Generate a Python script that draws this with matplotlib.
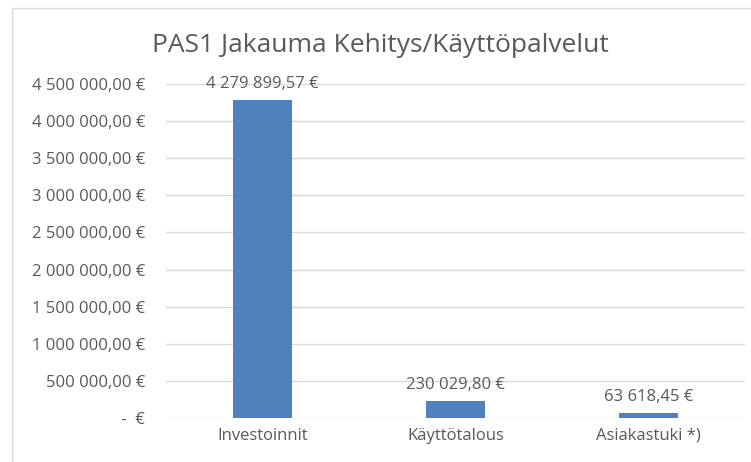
import matplotlib.pyplot as plt
from matplotlib.patches import Rectangle

# Data
categories = ["Investoinnit", "Käyttötalous", "Asiakastuki *)"]
values = [4279899.57, 230029.80, 63618.45]
value_labels = ["4 279 899,57 €", "230 029,80 €", "63 618,45 €"]
ticks = [0, 500000, 1000000, 1500000, 2000000, 2500000, 3000000, 3500000, 4000000, 4500000]
tick_labels = [" -  €", "500 000,00 €", "1 000 000,00 €", "1 500 000,00 €", "2 000 000,00 €",
               "2 500 000,00 €", "3 000 000,00 €", "3 500 000,00 €", "4 000 000,00 €", "4 500 000,00 €"]

plt.rcParams['font.family'] = ['Open Sans', 'DejaVu Sans']
text_color = "#595959"

fig = plt.figure(figsize=(7.51, 4.62), dpi=100)

# chart border
fig.patches.append(Rectangle((12 / 751, -0.05), 1.0, 1 - 8 / 462 + 0.05, transform=fig.transFigure,
                             fill=False, edgecolor="#D9D9D9", linewidth=1.0))

ax = fig.add_axes([166 / 751, 1 - 418 / 462, (745 - 166) / 751, (418 - 84) / 462])

x = list(range(len(categories)))
ax.bar(x, values, width=0.31, color="#4F81BD", zorder=3)

for i in range(len(values)):
    ax.annotate(value_labels[i], (x[i], values[i]), xytext=(0, 6), textcoords="offset points",
                ha="center", va="bottom", fontsize=12, color=text_color)

ax.set_xlim(-0.5, 2.5)
ax.set_ylim(0, 4500000)
ax.set_yticks(ticks)
ax.set_yticklabels(tick_labels, fontsize=12, color=text_color)
ax.set_xticks(x)
ax.set_xticklabels(categories, fontsize=12, color=text_color)
ax.tick_params(axis="both", length=0)
ax.tick_params(axis="y", pad=15)
ax.tick_params(axis="x", pad=7)
ax.grid(axis="y", color="#D9D9D9", linewidth=1.0, zorder=0)
for s in ax.spines.values():
    s.set_visible(False)

fig.text(380 / 751, 1 - 45 / 462, "PAS1 Jakauma Kehitys/Käyttöpalvelut", ha="center", va="center",
         fontsize=19, color=text_color)

fig.savefig("out.png", dpi=100)
